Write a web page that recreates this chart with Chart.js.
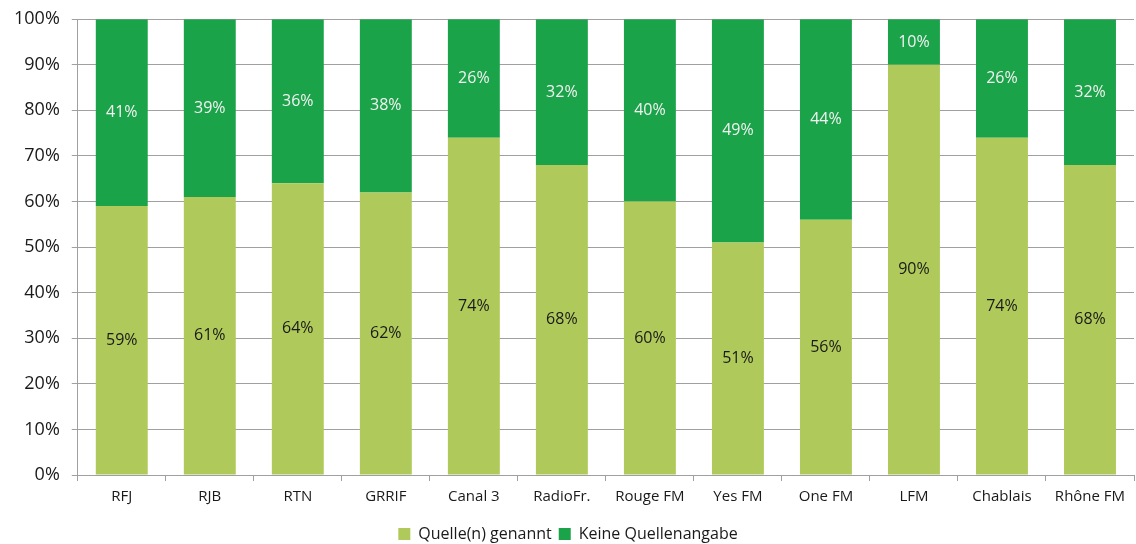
<!DOCTYPE html>
<html>
<head>
<meta charset="utf-8">
<script src="https://cdn.jsdelivr.net/npm/chart.js@4"></script>
<style>
  html, body { margin: 0; padding: 0; background: #fff; }
  #wrap { width: 1136px; height: 544px; }
</style>
</head>
<body>
<div id="wrap"><canvas id="sourceChart"></canvas></div>
<script>
const stations = ['RFJ', 'RJB', 'RTN', 'GRRIF', 'Canal 3', 'RadioFr.', 'Rouge FM', 'Yes FM', 'One FM', 'LFM', 'Chablais', 'Rhône FM'];
const quelleGenannt = [59, 61, 64, 62, 74, 68, 60, 51, 56, 90, 74, 68];
const keineAngabe = [41, 39, 36, 38, 26, 32, 40, 49, 44, 10, 26, 32];
const yTicks = [0, 10, 20, 30, 40, 50, 60, 70, 80, 90, 100];

const fontFamily = "'Open Sans', 'Noto Sans', sans-serif";

// draws the percentage in the middle of each segment
const segmentLabels = {
  id: 'segmentLabels',
  afterDatasetsDraw(chart) {
    const c = chart.ctx;
    c.save();
    c.font = '16px ' + fontFamily;
    c.textAlign = 'center';
    c.textBaseline = 'middle';
    chart.data.datasets.forEach((ds, i) => {
      const meta = chart.getDatasetMeta(i);
      meta.data.forEach((bar, j) => {
        const p = bar.getProps(['x', 'y', 'base'], true);
        c.fillStyle = ds.labelColor;
        c.fillText(ds.data[j] + '%', p.x, (p.y + p.base) / 2);
      });
    });
    c.restore();
  }
};

const ctx = document.getElementById('sourceChart').getContext('2d');
const sourceChart = new Chart(ctx, {
  type: 'bar',
  data: {
    labels: stations,
    datasets: [{
      label: 'Quelle(n) genannt',
      data: quelleGenannt,
      backgroundColor: '#afca5a',
      labelColor: '#1a1a1a',
      barPercentage: 0.59,
      categoryPercentage: 1
    }, {
      label: 'Keine Quellenangabe',
      data: keineAngabe,
      backgroundColor: '#1ba34a',
      labelColor: '#f2f2f2',
      barPercentage: 0.59,
      categoryPercentage: 1
    }]
  },
  options: {
    responsive: true,
    maintainAspectRatio: false,
    animation: false,
    layout: { padding: { top: 18, right: 2, left: 2, bottom: -8 } },
    scales: {
      x: {
        stacked: true,
        grid: { display: true, drawOnChartArea: false, tickLength: 6, color: '#a0a0a0' },
        border: { color: '#a0a0a0', width: 1 },
        ticks: { color: '#1a1a1a', font: { size: 15, family: fontFamily }, padding: 7 },
        afterFit(axis) { axis.height += 6; }
      },
      y: {
        stacked: true,
        min: 0,
        max: 100,
        afterBuildTicks(axis) { axis.ticks = yTicks.map(v => ({ value: v })); },
        grid: { color: '#a0a0a0', tickLength: 6 },
        border: { color: '#a0a0a0', width: 1 },
        ticks: {
          color: '#1a1a1a',
          font: { size: 18, family: fontFamily, lineHeight: 0.8 },
          padding: 12,
          callback: v => v + '%'
        }
      }
    },
    plugins: {
      legend: {
        position: 'bottom',
        labels: {
          color: '#1a1a1a',
          font: { size: 16, family: fontFamily },
          boxWidth: 12,
          boxHeight: 12,
          padding: 7
        }
      },
      tooltip: { enabled: false }
    }
  },
  plugins: [segmentLabels]
});
</script>
</body>
</html>
